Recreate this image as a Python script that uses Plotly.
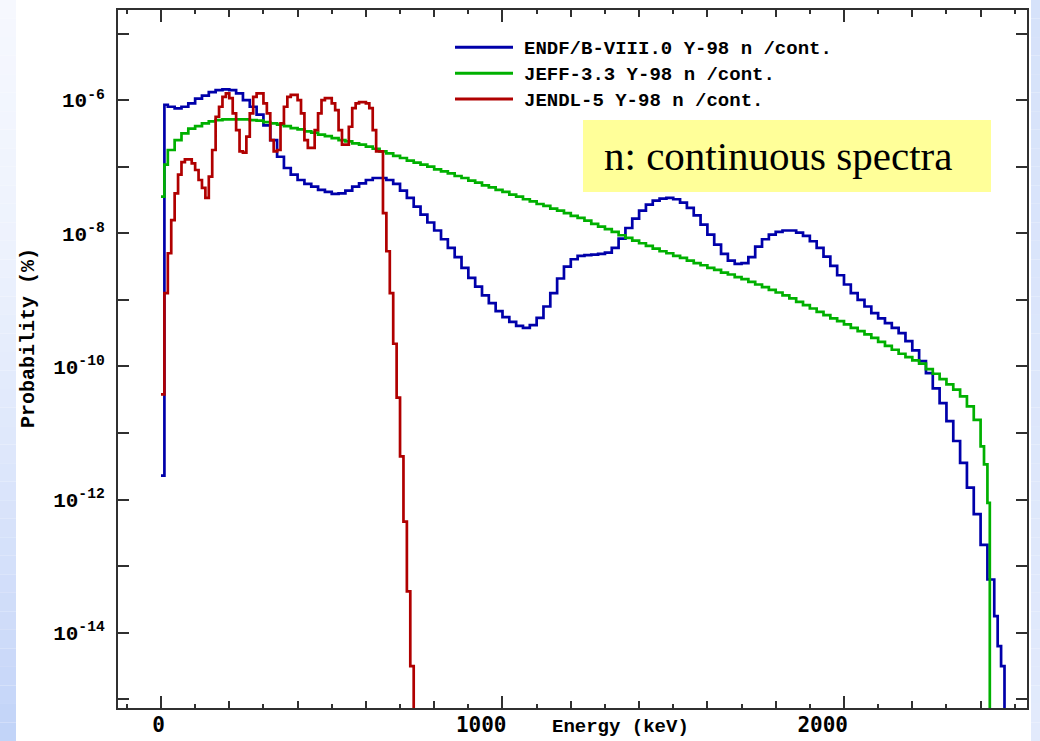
import plotly.graph_objects as go

# ---------------- data ----------------
series_names = [
    "ENDF/B-VIII.0 Y-98 n /cont.",
    "JEFF-3.3 Y-98 n /cont.",
    "JENDL-5 Y-98 n /cont.",
]

# bin start energies (keV); last entry closes the final bin (probability drops to 0)
energy_endf = [0, 10] + list(range(20, 2440, 20)) + [2440, 2450, 2460, 2470]
prob_endf = [
    2.29e-12, 8.51e-7,
    7.94e-7, 7.50e-7, 7.94e-7, 8.91e-7, 1.05e-6, 1.17e-6, 1.32e-6, 1.41e-6, 1.45e-6, 1.41e-6,
    1.26e-6, 1.00e-6, 7.94e-7, 6.03e-7, 4.17e-7, 2.51e-7, 1.41e-7, 9.55e-8, 7.59e-8, 6.31e-8,
    5.50e-8, 5.01e-8, 4.47e-8, 4.17e-8, 3.89e-8, 3.98e-8, 4.37e-8, 5.01e-8, 5.62e-8, 6.31e-8,
    6.76e-8, 6.76e-8, 6.31e-8, 5.50e-8, 4.37e-8, 3.39e-8, 2.51e-8, 1.91e-8, 1.45e-8, 1.10e-8,
    8.13e-9, 6.03e-9, 4.37e-9, 3.02e-9, 2.14e-9, 1.58e-9, 1.17e-9, 8.91e-10, 6.76e-10, 5.50e-10,
    4.68e-10, 4.07e-10, 3.80e-10, 4.17e-10, 5.37e-10, 7.94e-10, 1.26e-9, 2.09e-9, 3.16e-9, 4.07e-9,
    4.57e-9, 4.68e-9, 4.79e-9, 4.90e-9, 5.13e-9, 6.03e-9, 8.32e-9, 1.20e-8, 1.66e-8, 2.19e-8,
    2.69e-8, 3.09e-8, 3.31e-8, 3.39e-8, 3.24e-8, 2.88e-8, 2.40e-8, 1.86e-8, 1.35e-8, 9.55e-9,
    6.76e-9, 4.90e-9, 3.89e-9, 3.47e-9, 3.55e-9, 4.37e-9, 6.31e-9, 8.13e-9, 9.55e-9, 1.05e-8,
    1.10e-8, 1.10e-8, 1.02e-8, 9.12e-9, 7.59e-9, 6.03e-9, 4.47e-9, 3.24e-9, 2.34e-9, 1.70e-9,
    1.26e-9, 1.00e-9, 7.94e-10, 6.31e-10, 5.25e-10, 4.47e-10, 3.80e-10, 3.16e-10, 2.40e-10, 1.74e-10,
    1.20e-10, 7.94e-11, 4.68e-11, 2.82e-11, 1.51e-11, 7.59e-12, 3.55e-12, 1.51e-12, 6.03e-13, 2.09e-13,
    6.31e-14,
    1.78e-14, 6.31e-15, 3.16e-15, 1e-30,
]

energy_jeff = [0, 10] + list(range(20, 2400, 20)) + [2400, 2410, 2420, 2427]
prob_jeff = [
    3.55e-8, 1.07e-7,
    1.78e-7, 2.51e-7, 3.16e-7, 3.72e-7, 4.07e-7, 4.47e-7, 4.79e-7, 5.01e-7, 5.13e-7, 5.13e-7,
    5.13e-7, 5.13e-7, 5.01e-7, 4.90e-7, 4.68e-7, 4.47e-7, 4.27e-7, 4.07e-7, 3.80e-7, 3.63e-7,
    3.39e-7, 3.24e-7, 3.02e-7, 2.88e-7, 2.69e-7, 2.51e-7, 2.40e-7, 2.24e-7, 2.14e-7, 2.00e-7,
    1.86e-7, 1.70e-7, 1.58e-7, 1.45e-7, 1.35e-7, 1.23e-7, 1.15e-7, 1.07e-7, 1.00e-7, 9.12e-8,
    8.51e-8, 7.94e-8, 7.24e-8, 6.76e-8, 6.17e-8, 5.75e-8, 5.25e-8, 4.90e-8, 4.47e-8, 4.17e-8,
    3.80e-8, 3.55e-8, 3.24e-8, 3.02e-8, 2.75e-8, 2.57e-8, 2.34e-8, 2.19e-8, 2.00e-8, 1.82e-8,
    1.70e-8, 1.55e-8, 1.38e-8, 1.26e-8, 1.15e-8, 1.05e-8, 9.33e-9, 8.51e-9, 7.76e-9, 7.08e-9,
    6.46e-9, 5.89e-9, 5.37e-9, 5.01e-9, 4.57e-9, 4.27e-9, 3.89e-9, 3.55e-9, 3.31e-9, 3.02e-9,
    2.82e-9, 2.57e-9, 2.40e-9, 2.19e-9, 2.04e-9, 1.86e-9, 1.70e-9, 1.55e-9, 1.41e-9, 1.29e-9,
    1.17e-9, 1.05e-9, 9.33e-10, 8.32e-10, 7.41e-10, 6.61e-10, 5.89e-10, 5.25e-10, 4.79e-10, 4.27e-10,
    3.80e-10, 3.39e-10, 3.02e-10, 2.69e-10, 2.34e-10, 2.04e-10, 1.78e-10, 1.55e-10, 1.38e-10, 1.23e-10,
    1.10e-10, 9.12e-11, 7.76e-11, 6.46e-11, 5.37e-11, 4.47e-11, 3.55e-11, 2.51e-11, 1.58e-11,
    6.31e-12, 3.39e-12, 8.91e-13, 1e-30,
]

energy_jendl = list(range(0, 750, 10))
prob_jendl = [
    3.80e-11, 1.26e-9, 5.01e-9, 1.58e-8, 3.98e-8, 7.59e-8, 1.17e-7, 1.29e-7, 1.29e-7, 1.12e-7,
    8.91e-8, 6.31e-8, 4.79e-8, 3.39e-8, 7.08e-8, 1.78e-7, 5.62e-7, 7.94e-7, 1.12e-6, 1.26e-6,
    1.07e-6, 6.31e-7, 3.55e-7, 1.70e-7, 1.62e-7, 2.82e-7, 6.31e-7, 1.12e-6, 1.26e-6, 1.26e-6,
    8.91e-7, 6.31e-7, 2.51e-7, 1.70e-7, 1.78e-7, 4.47e-7, 7.94e-7, 1.12e-6, 1.20e-6, 1.20e-6,
    1.00e-6, 6.31e-7, 2.51e-7, 1.91e-7, 1.91e-7, 3.55e-7, 6.31e-7, 1.00e-6, 1.07e-6, 1.07e-6,
    8.91e-7, 7.08e-7, 3.55e-7, 2.14e-7, 2.14e-7, 3.98e-7, 7.59e-7, 8.91e-7, 9.33e-7, 9.33e-7,
    8.91e-7, 7.59e-7, 3.55e-7, 1.70e-7, 1.70e-7, 2.00e-8, 5.37e-9, 1.26e-9, 2.19e-10, 3.39e-11,
    4.47e-12, 4.68e-13, 4.17e-14, 3.16e-15, 1e-30,
]

x_tick_vals = [0, 1000, 2000]
x_tick_text = ["0", "1000", "2000"]
x_mid_tick_vals = [-200, 200, 400, 600, 800, 1200, 1400, 1600, 1800, 2200, 2400]
y_tick_vals = [1e-6, 1e-8, 1e-10, 1e-12, 1e-14]
y_tick_text = ["10<sup>-6</sup>", "10<sup>-8</sup>", "10<sup>-10</sup>",
               "10<sup>-12</sup>", "10<sup>-14</sup>"]
y_minor_vals = [1e-5, 1e-7, 1e-9, 1e-11, 1e-13, 1e-15]

# ---------------- styling / layout ----------------
W, H = 1040, 741
ML, MR, MT, MB = 118, 13, 10, 33
PW, PH = W - ML - MR, H - MT - MB
X_RANGE = [-125.9, 2535.9]
Y_RANGE = [-15.13, -4.647]

colors = ["#0000aa", "#00b000", "#b00000"]
MONO = "Liberation Mono, DejaVu Sans Mono, monospace"
DJMONO = "DejaVu Sans Mono, Liberation Mono, monospace"
AXC = "#303030"


def px(x):
    return (x - ML) / PW


def py(y):
    return (H - MB - y) / PH


fig = go.Figure()
for e, p, c, n in zip([energy_endf, energy_jeff, energy_jendl],
                      [prob_endf, prob_jeff, prob_jendl], colors, series_names):
    fig.add_trace(go.Scatter(x=e, y=p, mode="lines", name=n,
                             line=dict(color=c, width=2.7, shape="hv"),
                             showlegend=False, hoverinfo="skip"))
# empty trace to instantiate the overlay axis used for medium tick marks
fig.add_trace(go.Scatter(x=[], y=[], xaxis="x2", yaxis="y", showlegend=False))

shapes = []


def lerp(c1, c2, t):
    return "rgb(%d,%d,%d)" % tuple(round(a + (b - a) * t) for a, b in zip(c1, c2))


# slide background strips (gradient)
stops = [(0, (246, 248, 254)), (250, (237, 242, 253)), (450, (222, 231, 251)),
         (650, (204, 218, 249)), (741, (193, 211, 248))]
N = 40
for i in range(N):
    y0 = H * i / N
    y1 = H * (i + 1) / N
    ym = (y0 + y1) / 2
    for (a, ca), (b, cb) in zip(stops[:-1], stops[1:]):
        if a <= ym <= b:
            col = lerp(ca, cb, (ym - a) / (b - a))
            break
    shapes.append(dict(type="rect", xref="paper", yref="paper", x0=px(0), x1=px(16),
                       y0=py(y1), y1=py(y0), fillcolor=col, line=dict(width=0), layer="below"))
    colr = lerp((214, 226, 250), (226, 234, 252), ym / H)
    shapes.append(dict(type="rect", xref="paper", yref="paper", x0=px(1031), x1=px(1040),
                       y0=py(y1), y1=py(y0), fillcolor=colr, line=dict(width=0), layer="below"))

# yellow label box
shapes.append(dict(type="rect", xref="paper", yref="paper", x0=px(583), x1=px(991),
                   y0=py(192), y1=py(120), fillcolor="#ffff99", line=dict(width=0), layer="above"))

# legend line samples
legend_rows = [47.3, 73.2, 99]
for yy, c in zip(legend_rows, colors):
    shapes.append(dict(type="line", xref="paper", yref="paper", x0=px(455), x1=px(513),
                       y0=py(yy), y1=py(yy), line=dict(color=c, width=3)))

annotations = []
for yy, n in zip(legend_rows, series_names):
    annotations.append(dict(xref="paper", yref="paper", x=px(522), y=py(yy + 1.5),
                            xanchor="left", yanchor="middle", showarrow=False, text=n,
                            font=dict(family=MONO, size=19, color="black", weight="bold")))

annotations.append(dict(xref="paper", yref="paper", x=px(602), y=py(156.5),
                        xanchor="left", yanchor="middle", showarrow=False,
                        text="n: continuous spectra",
                        font=dict(family="Liberation Serif, Times New Roman, serif",
                                  size=41, color="black")))
annotations.append(dict(xref="paper", yref="paper", x=px(620), y=py(727),
                        xanchor="center", yanchor="middle", showarrow=False,
                        text="Energy (keV)",
                        font=dict(family=MONO, size=19, color="black", weight="bold")))
annotations.append(dict(xref="paper", yref="paper", x=px(29), y=py(338),
                        xanchor="center", yanchor="middle", showarrow=False, textangle=-90,
                        text="Probability (%)",
                        font=dict(family=MONO, size=20, color="black", weight="bold")))

axis_common = dict(showgrid=False, zeroline=False, ticks="inside", tickcolor=AXC,
                   tickwidth=2, fixedrange=True, automargin=False)

fig.update_layout(
    width=W, height=H, autosize=False,
    margin=dict(l=ML, r=MR, t=MT, b=MB, pad=0, autoexpand=False),
    paper_bgcolor="white", plot_bgcolor="white",
    showlegend=False,
    shapes=shapes, annotations=annotations,
    xaxis=dict(**axis_common, range=X_RANGE, showline=True, linecolor=AXC, linewidth=2,
               mirror="allticks", ticklen=12, tickmode="array",
               tickvals=x_tick_vals, ticktext=x_tick_text, ticklabelstandoff=-3,
               ticklabelposition="outside left", ticklabelshift=6,
               tickfont=dict(family=DJMONO, size=21, color="black", weight="bold"),
               minor=dict(tickmode="linear", tick0=0, dtick=100, ticklen=4,
                          tickwidth=2, tickcolor=AXC, ticks="inside")),
    xaxis2=dict(**axis_common, range=X_RANGE, overlaying="x", anchor="y", side="bottom",
                showline=False, mirror="allticks", ticklen=7, tickmode="array",
                tickvals=x_mid_tick_vals, showticklabels=False),
    yaxis=dict(**axis_common, type="log", range=Y_RANGE, showline=True, linecolor=AXC,
               linewidth=2, mirror="allticks", ticklen=11, tickmode="array",
               tickvals=y_tick_vals, ticktext=y_tick_text, ticklabelstandoff=7,
               tickfont=dict(family=MONO, size=21, color="black", weight="bold"),
               minor=dict(tickmode="array", tickvals=y_minor_vals, ticklen=6,
                          tickwidth=2, tickcolor=AXC, ticks="inside")),
)

fig.write_html("out.html", config={"responsive": False})
